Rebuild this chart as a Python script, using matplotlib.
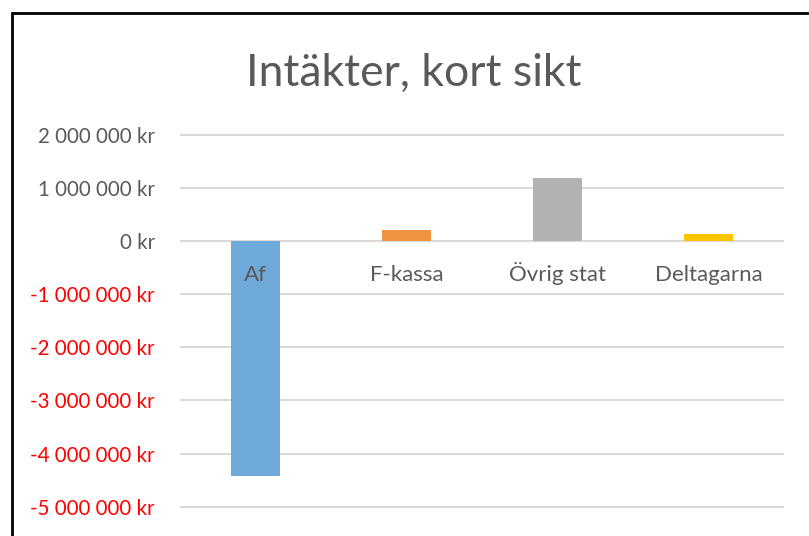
import matplotlib
matplotlib.use("Agg")
from matplotlib import pyplot as plt
from matplotlib.patches import Rectangle

categories = ["Af", "F-kassa", "Övrig stat", "Deltagarna"]
values = [-4_430_000, 205_000, 1_190_000, 130_000]
colors = ["#6FAADB", "#F29340", "#B2B2B2", "#FFC600"]
yticks = [2_000_000, 1_000_000, 0, -1_000_000, -2_000_000, -3_000_000, -4_000_000, -5_000_000]

W, H = 809, 536


def fmt(v):
    s = f"{abs(v):,}".replace(",", " ")
    return ("-" if v < 0 else "") + s + " kr"


def main():
    plt.rcParams['font.family'] = ['Lato', 'DejaVu Sans']
    fig = plt.figure(figsize=(W / 100, H / 100), dpi=100)

    # outer chart border (cropped at right/bottom in the original)
    fig.patches.append(Rectangle((12 / W, -0.1), 1.2, 1 - 13 / H + 0.1,
                                 transform=fig.transFigure, fill=False,
                                 edgecolor="black", linewidth=2))

    ylo, yhi = -5.2e6, 2.2e6
    ppu = 53.14 / 1e6
    top_px = 241 - yhi * ppu
    bot_px = 241 - ylo * ppu
    ax = fig.add_axes([180 / W, 1 - bot_px / H, 604 / W, (bot_px - top_px) / H])
    ax.set_xlim(-0.5, len(categories) - 0.5)
    ax.set_ylim(ylo, yhi)

    x = range(len(categories))
    ax.bar(x, values, width=0.32, color=colors, zorder=2)

    for i, c in enumerate(categories):
        ax.annotate(c, (i, 0), xytext=(0, -28.8), textcoords="offset points",
                    ha="center", va="baseline", fontsize=16, color="#595959", zorder=3)

    ax.set_yticks(yticks)
    ax.set_yticklabels([fmt(v) for v in yticks], fontsize=14.8)
    for lab, v in zip(ax.get_yticklabels(), yticks):
        lab.set_color("red" if v < 0 else "#595959")
    ax.tick_params(axis="y", length=0, pad=18)
    ax.set_xticks([])
    ax.yaxis.grid(True, color="#D9D9D9", linewidth=1.5, zorder=0)
    ax.set_axisbelow(True)
    for sp in ax.spines.values():
        sp.set_visible(False)

    fig.text(414 / W, 1 - 73 / H, "Intäkter, kort sikt", ha="center", va="center",
             fontsize=32, color="#595959")

    fig.savefig("out.png", dpi=100)


if __name__ == '__main__':
    main()
